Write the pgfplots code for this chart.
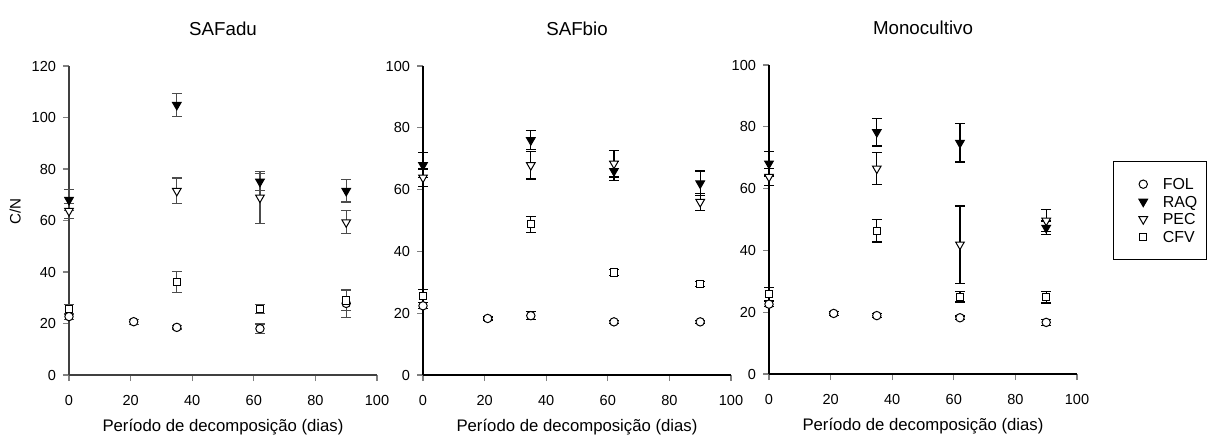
\documentclass[border=0pt]{standalone}
\usepackage{pgfplots}
\pgfplotsset{compat=1.18}
\usepackage{pgfplotstable}
\usepackage{fontspec}
\setmainfont{Liberation Sans}

% C/N ratio of litter fractions during decomposition: x = day, y = mean, e = error
% ---- SAFadu
\pgfplotstableread{
x y e
0 22.7 1.0
21 20.7 1.0
35 18.5 0.6
62 18.0 1.8
90 27.8 5.5
}\aduFOL
\pgfplotstableread{
x y e
0 68.0 4.1
35 104.9 4.4
62 75.1 3.3
90 71.5 4.3
}\aduRAQ
\pgfplotstableread{
x y e
0 63.7 2.8
35 71.5 5.0
62 68.9 10.0
90 59.3 4.5
}\aduPEC
\pgfplotstableread{
x y e
0 25.6 1.9
35 36.2 4.1
62 25.6 1.8
90 28.9 3.8
}\aduCFV
% ---- SAFbio
\pgfplotstableread{
x y e
0 22.4 1.0
21 18.3 0.5
35 19.2 1.3
62 17.2 0.5
90 17.2 0.5
}\bioFOL
\pgfplotstableread{
x y e
0 67.9 4.1
35 76.0 3.0
62 66.0 3.1
90 62.0 4.0
}\bioRAQ
\pgfplotstableread{
x y e
0 63.9 2.8
35 67.9 4.5
62 68.4 4.3
90 56.0 2.8
}\bioPEC
\pgfplotstableread{
x y e
0 25.6 2.1
35 48.8 2.6
62 33.2 1.0
90 29.4 0.8
}\bioCFV
% ---- Monocultivo
\pgfplotstableread{
x y e
0 22.6 0.8
21 19.6 0.6
35 18.9 0.6
62 18.2 0.6
90 16.7 1.0
}\monFOL
\pgfplotstableread{
x y e
0 68.1 4.0
35 78.3 4.5
62 74.8 6.2
90 47.3 2.2
}\monRAQ
\pgfplotstableread{
x y e
0 63.8 2.7
35 66.5 5.1
62 41.9 12.5
90 49.6 3.6
}\monPEC
\pgfplotstableread{
x y e
0 25.9 2.0
35 46.3 3.6
62 25.0 1.7
90 24.8 1.8
}\monCFV

\pgfplotsset{
  cnpanel/.style={
    scale only axis, width=154bp, height=154.5bp,
    axis lines=left, axis line style={-, line width=0.6bp},
    xmin=0, xmax=100, ymin=0,
    xtick={0,20,...,100},
    tick align=outside, major tick length=3bp,
    tick style={line width=0.6bp},
    clip=false,
    tick label style={font=\fontsize{7.3}{8}\selectfont},
    /pgf/number format/assume math mode=true,
    xticklabel style={yshift=-3.5bp},
    title style={at={(axis description cs:0.5,1)}, anchor=base, yshift=9.25bp,
      font=\fontsize{9.4}{11}\selectfont},
    xlabel={Período de decomposição (dias)},
    xlabel style={at={(axis description cs:0.5,0)}, anchor=base, yshift=-28bp,
      font=\fontsize{8.4}{10}\selectfont},
    every axis plot/.append style={
      error bars/y dir=both, error bars/y explicit,
      error bars/error mark options={rotate=90, mark size=2.5bp, line width=0.6bp},
      error bars/error bar style={line width=0.6bp},
    },
    % legend sample: the mark alone, centred in a 17bp wide slot
    legend image code/.code={
      \path (0bp,0bp) (17bp,0bp);
      \draw[##1] plot coordinates {(8.5bp,0bp)};
    },
  },
  fol/.style={only marks, mark=*, mark size=2.1bp,
    mark options={fill=white, draw=black, line width=0.5bp}},
  raq/.style={only marks, mark=triangle*, mark size=2.5bp,
    mark options={rotate=180, fill=black, draw=black, line width=0.5bp}},
  pec/.style={only marks, mark=triangle*, mark size=2.5bp,
    mark options={rotate=180, fill=white, draw=black, line width=0.5bp}},
  cfv/.style={only marks, mark=square*, mark size=1.8bp,
    mark options={fill=white, draw=black, line width=0.5bp}},
}

\begin{document}
\begin{tikzpicture}
\useasboundingbox (0,0) rectangle (606.5bp,-219.5bp);

% SAFadu
\begin{axis}[cnpanel, at={(34.5bp,-187.5bp)}, anchor=south west,
  ymax=120, ytick={0,20,...,120},
  axis line style={black!75},
  every axis plot/.append style={error bars/error bar style={black!70}},
  title={SAFadu},
  ylabel={C/N},
  ylabel style={at={(axis description cs:-0.175,0.53)}, anchor=center,
    font=\fontsize{7.6}{9}\selectfont}]
\addplot[fol] table[x=x, y=y, y error=e] {\aduFOL};
\addplot[raq] table[x=x, y=y, y error=e] {\aduRAQ};
\addplot[pec] table[x=x, y=y, y error=e] {\aduPEC};
\addplot[cfv] table[x=x, y=y, y error=e] {\aduCFV};
\end{axis}

% SAFbio
\begin{axis}[cnpanel, at={(211.5bp,-187.5bp)}, anchor=south west,
  ymax=100, ytick={0,20,...,100},
  title={SAFbio}]
\addplot[fol] table[x=x, y=y, y error=e] {\bioFOL};
\addplot[raq] table[x=x, y=y, y error=e] {\bioRAQ};
\addplot[pec] table[x=x, y=y, y error=e] {\bioPEC};
\addplot[cfv] table[x=x, y=y, y error=e] {\bioCFV};
\end{axis}

% Monocultivo, with the shared legend
\begin{axis}[cnpanel, at={(384.5bp,-187bp)}, anchor=south west,
  ymax=100, ytick={0,20,...,100},
  title={Monocultivo},
  legend cell align=left,
  legend style={at={(axis description cs:1.117,0.689)}, anchor=north west,
    draw=black, line width=0.6bp, inner xsep=6bp, inner ysep=7bp,
    row sep=0.25bp, font=\fontsize{8}{9}\selectfont,
    nodes={inner sep=1bp, text height=6bp, text depth=0.5bp},
    /tikz/every even column/.append style={text width=15bp}}]
\addplot[fol] table[x=x, y=y, y error=e] {\monFOL};
\addlegendentry{FOL}
\addplot[raq] table[x=x, y=y, y error=e] {\monRAQ};
\addlegendentry{RAQ}
\addplot[pec] table[x=x, y=y, y error=e] {\monPEC};
\addlegendentry{PEC}
\addplot[cfv] table[x=x, y=y, y error=e] {\monCFV};
\addlegendentry{CFV}
\end{axis}
\end{tikzpicture}
\end{document}
